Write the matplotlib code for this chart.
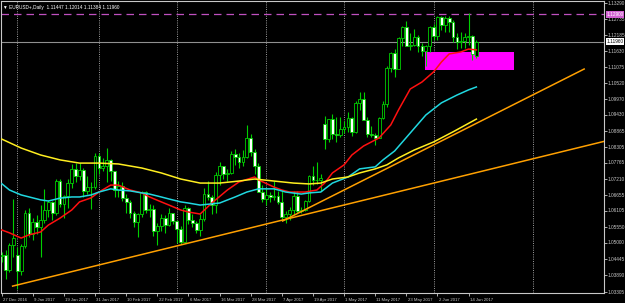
import matplotlib
matplotlib.use("Agg")
import matplotlib.pyplot as plt
import numpy as np

# daily EURUSD bars, 27 Dec 2016 .. 16 Jun 2017 (index = bar number)
opens = [1.0455, 1.0457, 1.0406, 1.0493, 1.0460, 1.0402, 1.0488, 1.0603, 1.0532, 1.0572,
         1.0555, 1.0580, 1.0613, 1.0642, 1.0603, 1.0715, 1.0635, 1.0662, 1.0707, 1.0757,
         1.0730, 1.0751, 1.0680, 1.0693, 1.0692, 1.0800, 1.0760, 1.0765, 1.0785, 1.0747,
         1.0683, 1.0697, 1.0657, 1.0640, 1.0602, 1.0573, 1.0600, 1.0675, 1.0615, 1.0617,
         1.0540, 1.0560, 1.0588, 1.0563, 1.0603, 1.0575, 1.0547, 1.0505, 1.0620, 1.0580,
         1.0568, 1.0544, 1.0582, 1.0670, 1.0658, 1.0631, 1.0736, 1.0765, 1.0740, 1.0742,
         1.0808, 1.0797, 1.0780, 1.0796, 1.0864, 1.0815, 1.0765, 1.0677, 1.0652, 1.0667,
         1.0660, 1.0663, 1.0643, 1.0590, 1.0600, 1.0614, 1.0664, 1.0612, 1.0615, 1.0645,
         1.0731, 1.0717, 1.0716, 1.0910, 1.0859, 1.0928, 1.0875, 1.0872, 1.0895, 1.0901,
         1.0933, 1.0882, 1.0982, 1.0998, 1.0924, 1.0877, 1.0872, 1.0863, 1.0933, 1.0981,
         1.1103, 1.1157, 1.1100, 1.1207, 1.1246, 1.1180, 1.1184, 1.1212, 1.1180, 1.1163,
         1.1181, 1.1245, 1.1215, 1.1281, 1.1252, 1.1277, 1.1262, 1.1213, 1.1196, 1.1198,
         1.1213, 1.1216, 1.11447]
highs = [1.0468, 1.0475, 1.0499, 1.0653, 1.0485, 1.0495, 1.0615, 1.0620, 1.0588, 1.0595,
         1.0630, 1.0685, 1.0650, 1.0645, 1.0720, 1.0720, 1.0665, 1.0720, 1.0774, 1.0775,
         1.0775, 1.0760, 1.0730, 1.0710, 1.0810, 1.0810, 1.0795, 1.0829, 1.0790, 1.0750,
         1.0715, 1.0710, 1.0670, 1.0650, 1.0610, 1.0605, 1.0680, 1.0679, 1.0635, 1.0630,
         1.0570, 1.0600, 1.0598, 1.0620, 1.0605, 1.0580, 1.0560, 1.0630, 1.0623, 1.0600,
         1.0575, 1.0600, 1.0690, 1.0715, 1.0665, 1.0745, 1.0780, 1.0765, 1.0757, 1.0818,
         1.0826, 1.0810, 1.0820, 1.0906, 1.0875, 1.0825, 1.0775, 1.0700, 1.0690, 1.0675,
         1.0715, 1.0680, 1.0680, 1.0610, 1.0625, 1.0680, 1.0680, 1.0625, 1.0650, 1.0735,
         1.0765, 1.0780, 1.0737, 1.0937, 1.0928, 1.0947, 1.0935, 1.0935, 1.0922, 1.0951,
         1.0935, 1.0990, 1.1020, 1.1023, 1.0935, 1.0905, 1.0880, 1.0935, 1.0990, 1.1110,
         1.1160, 1.1170, 1.1213, 1.1250, 1.1268, 1.1225, 1.1240, 1.1220, 1.1190, 1.1185,
         1.1250, 1.1255, 1.1285, 1.1285, 1.1285, 1.1283, 1.1270, 1.1225, 1.1230, 1.1225,
         1.1296, 1.1218, 1.12014]
lows = [1.0435, 1.0374, 1.0400, 1.0450, 1.0340, 1.0390, 1.0482, 1.0520, 1.0510, 1.0530,
        1.0453, 1.0570, 1.0590, 1.0580, 1.0598, 1.0625, 1.0585, 1.0620, 1.0690, 1.0710,
        1.0717, 1.0660, 1.0670, 1.0617, 1.0685, 1.0740, 1.0750, 1.0712, 1.0715, 1.0660,
        1.0660, 1.0645, 1.0605, 1.0585, 1.0555, 1.0520, 1.0590, 1.0605, 1.0590, 1.0525,
        1.0494, 1.0540, 1.0535, 1.0560, 1.0565, 1.0500, 1.0495, 1.0500, 1.0565, 1.0555,
        1.0535, 1.0525, 1.0575, 1.0650, 1.0600, 1.0605, 1.0700, 1.0720, 1.0715, 1.0737,
        1.0770, 1.0760, 1.0765, 1.0795, 1.0800, 1.0740, 1.0675, 1.0640, 1.0630, 1.0640,
        1.0650, 1.0635, 1.0580, 1.0570, 1.0580, 1.0600, 1.0605, 1.0605, 1.0610, 1.0640,
        1.0700, 1.0705, 1.0680, 1.0825, 1.0850, 1.0860, 1.0850, 1.0865, 1.0880, 1.0885,
        1.0870, 1.0880, 1.0960, 1.0925, 1.0866, 1.0865, 1.0838, 1.0865, 1.0930, 1.0970,
        1.1090, 1.1075, 1.1100, 1.1180, 1.1190, 1.1165, 1.1180, 1.1160, 1.1145, 1.1110,
        1.1160, 1.1200, 1.1200, 1.1237, 1.1230, 1.1230, 1.1195, 1.1170, 1.1175, 1.1175,
        1.1185, 1.1132, 1.11384]
closes = [1.0457, 1.0406, 1.0493, 1.0517, 1.0402, 1.0488, 1.0603, 1.0532, 1.0572, 1.0555,
          1.0580, 1.0613, 1.0642, 1.0603, 1.0715, 1.0635, 1.0662, 1.0707, 1.0757, 1.0730,
          1.0751, 1.0680, 1.0693, 1.0692, 1.0800, 1.0760, 1.0765, 1.0785, 1.0747, 1.0683,
          1.0697, 1.0657, 1.0640, 1.0602, 1.0573, 1.0600, 1.0675, 1.0615, 1.0617, 1.0540,
          1.0560, 1.0588, 1.0563, 1.0603, 1.0575, 1.0547, 1.0505, 1.0620, 1.0580, 1.0568,
          1.0544, 1.0582, 1.0670, 1.0658, 1.0631, 1.0736, 1.0765, 1.0740, 1.0742, 1.0808,
          1.0797, 1.0780, 1.0796, 1.0864, 1.0815, 1.0765, 1.0677, 1.0652, 1.0667, 1.0660,
          1.0663, 1.0643, 1.0590, 1.0600, 1.0614, 1.0664, 1.0612, 1.0615, 1.0645, 1.0731,
          1.0717, 1.0716, 1.0725, 1.0859, 1.0928, 1.0875, 1.0872, 1.0895, 1.0901, 1.0933,
          1.0882, 1.0982, 1.0998, 1.0924, 1.0877, 1.0872, 1.0863, 1.0933, 1.0981, 1.1103,
          1.1157, 1.1100, 1.1207, 1.1246, 1.1180, 1.1184, 1.1212, 1.1180, 1.1163, 1.1181,
          1.1245, 1.1215, 1.1281, 1.1252, 1.1277, 1.1262, 1.1213, 1.1196, 1.1198, 1.1213,
          1.1216, 1.1152, 1.11960]

# moving averages (bar index, price)
red_idx = [0, 2, 5, 7, 10, 12, 15, 18, 20, 23, 25, 28, 30, 33, 36, 38, 41, 43, 46, 48,
           51, 54, 58, 61, 65, 66, 70, 72, 74, 78, 81, 83, 85, 88, 90, 93, 95, 97, 100,
           102, 105, 108, 111, 113, 115, 118, 120, 122]
red_ma = [1.0545, 1.0535, 1.0517, 1.0528, 1.0538, 1.0562, 1.0586, 1.0614, 1.0642, 1.0656,
          1.0676, 1.0700, 1.0700, 1.0683, 1.0673, 1.0659, 1.0642, 1.0631, 1.0614, 1.0607,
          1.0600, 1.0638, 1.0683, 1.0711, 1.0728, 1.0718, 1.0693, 1.0683, 1.0676, 1.0676,
          1.0683, 1.0707, 1.0742, 1.0770, 1.0804, 1.0835, 1.0849, 1.0863, 1.0908, 1.0960,
          1.1032, 1.1056, 1.1091, 1.1125, 1.1153, 1.1160, 1.1170, 1.1167]
cyan_idx = [0, 2, 5, 10, 12, 15, 18, 20, 23, 25, 28, 30, 33, 36, 38, 41, 43, 46, 48, 51,
            56, 60, 63, 66, 70, 73, 77, 79, 82, 85, 89, 92, 96, 98, 101, 105, 109, 113,
            117, 120, 122]
cyan_ma = [1.0705, 1.0683, 1.0666, 1.0649, 1.0645, 1.0655, 1.0659, 1.0659, 1.0666, 1.0676,
           1.0687, 1.0683, 1.0680, 1.0673, 1.0669, 1.0659, 1.0652, 1.0642, 1.0638, 1.0631,
           1.0638, 1.0659, 1.0676, 1.0687, 1.0687, 1.0676, 1.0669, 1.0673, 1.0676, 1.0707,
           1.0728, 1.0756, 1.0763, 1.0787, 1.0818, 1.0880, 1.0942, 1.0984, 1.1011, 1.1029,
           1.1039]
yellow_idx = [0, 5, 10, 15, 20, 25, 30, 36, 41, 46, 51, 56, 61, 65, 70, 75, 79, 82, 85,
              89, 92, 96, 99, 102, 106, 111, 116, 122]
yellow_ma = [1.0859, 1.0828, 1.0804, 1.0787, 1.0776, 1.0776, 1.0773, 1.0759, 1.0742,
             1.0721, 1.0707, 1.0707, 1.0714, 1.0721, 1.0714, 1.0707, 1.0704, 1.0707,
             1.0721, 1.0728, 1.0742, 1.0756, 1.0770, 1.0794, 1.0821, 1.0849, 1.0884,
             1.0928]

# trend lines (start bar, start price, end bar, end price)
trend_steep = (72.2, 1.0576, 149.7, 1.1101)
trend_flat = (2.8, 1.0351, 154.8, 1.0851)

zone = (108.8, 1.1098, 131.7, 1.1161)
level = 1.12900

date_idx = [0, 8, 16, 24, 32, 40, 48, 56, 64, 72, 80, 88, 96, 104, 112, 120]
date_labels = ['27 Dec 2016', '9 Jan 2017', '19 Jan 2017', '31 Jan 2017', '10 Feb 2017',
               '22 Feb 2017', '6 Mar 2017', '16 Mar 2017', '28 Mar 2017', '7 Apr 2017',
               '19 Apr 2017', '1 May 2017', '11 May 2017', '23 May 2017', '2 Jun 2017',
               '14 Jun 2017']
month_sep = [4, 25, 45, 68, 88, 111, 136.6]
price_ticks = [1.13290, 1.12735, 1.12185, 1.11630, 1.11075, 1.10520, 1.09970, 1.09430,
               1.08865, 1.08305, 1.07765, 1.07210, 1.06655, 1.06105, 1.05550, 1.05000,
               1.04445, 1.03890, 1.03305]

bg = 'black'
green = '#00d000'
fg = '#c8c8c8'

fig = plt.figure(figsize=(6.25, 3.03), dpi=100, facecolor=bg)
ax = fig.add_axes([1 / 625, 10 / 303, 603 / 625, 292 / 303], facecolor=bg)
ax.set_xlim(-0.18, 154.8)
ax.set_ylim(1.03272, 1.13360)

for s in ax.spines.values():
    s.set_color(fg)
    s.set_linewidth(0.8)

# monthly separators
for m in month_sep:
    ax.axvline(m, color='#b0b0b0', lw=0.6, ls=(0, (1.2, 1.5)), zorder=1)

# levels
ax.axhline(level, color='#c050c0', lw=0.9, ls=(0, (6, 4)), zorder=2)
ax.axhline(closes[-1], color='#909090', lw=0.8, zorder=2)

x = np.arange(len(opens))
o = np.array(opens)
c = np.array(closes)
ax.vlines(x, lows, highs, color=green, lw=0.8, zorder=3)
body_col = np.where(c < o, 'white', 'black')
ax.bar(x, c - o, bottom=o, width=0.72, color=body_col, edgecolor=green, lw=0.6, zorder=4)

ax.plot(red_idx, red_ma, color='#ff1010', lw=1.1, zorder=5)
ax.plot(cyan_idx, cyan_ma, color='#20d8e0', lw=1.1, zorder=5)
ax.plot(yellow_idx, yellow_ma, color='#ffee20', lw=1.1, zorder=5)

for t in (trend_steep, trend_flat):
    ax.plot([t[0], t[2]], [t[1], t[3]], color='#ffa000', lw=1.1, zorder=5)

ax.add_patch(plt.Rectangle((zone[0], zone[1]), zone[2] - zone[0], zone[3] - zone[1],
                           facecolor='#ff00ff', edgecolor='none', zorder=2))

# axes ticks and labels
ax.set_xticks(date_idx)
ax.set_xticklabels([])
ax.set_yticks(price_ticks)
ax.set_yticklabels([])
ax.tick_params(axis='x', colors=fg, length=2, width=0.6, direction='out')
ax.tick_params(axis='y', left=False, right=True, colors=fg, length=2, width=0.6)
for i, lab in zip(date_idx, date_labels):
    ax.text(i + 0.3, -0.017, lab, transform=ax.get_xaxis_transform(), color=fg,
            fontsize=3.1, family='Liberation Sans', ha='left', va='top')
for p in price_ticks:
    ax.text(1.006, p, '%.5f' % p, transform=ax.get_yaxis_transform(), color=fg,
            fontsize=3.4, family='Liberation Sans', ha='left', va='center')

# price tags on the axis
ax.text(1.004, level, '%.5f' % level, transform=ax.get_yaxis_transform(), color='white',
        fontsize=3.4, family='Liberation Sans', ha='left', va='center',
        bbox=dict(boxstyle='square,pad=0.15', fc='#d060d0', ec='none'))
ax.text(1.004, closes[-1], '%.5f' % closes[-1], transform=ax.get_yaxis_transform(),
        color='black', fontsize=3.4, family='Liberation Sans', ha='left', va='center',
        bbox=dict(boxstyle='square,pad=0.15', fc='white', ec='none'))

ax.text(0.004, 0.985, '\u25bc EURUSD+,Daily  %.5f %.5f %.5f %.5f' % (opens[-1], highs[-1], lows[-1], closes[-1]),
        transform=ax.transAxes, color='white', fontsize=3.4, family='Liberation Sans',
        ha='left', va='top')

fig.savefig('out.png', dpi=100, facecolor=bg)
